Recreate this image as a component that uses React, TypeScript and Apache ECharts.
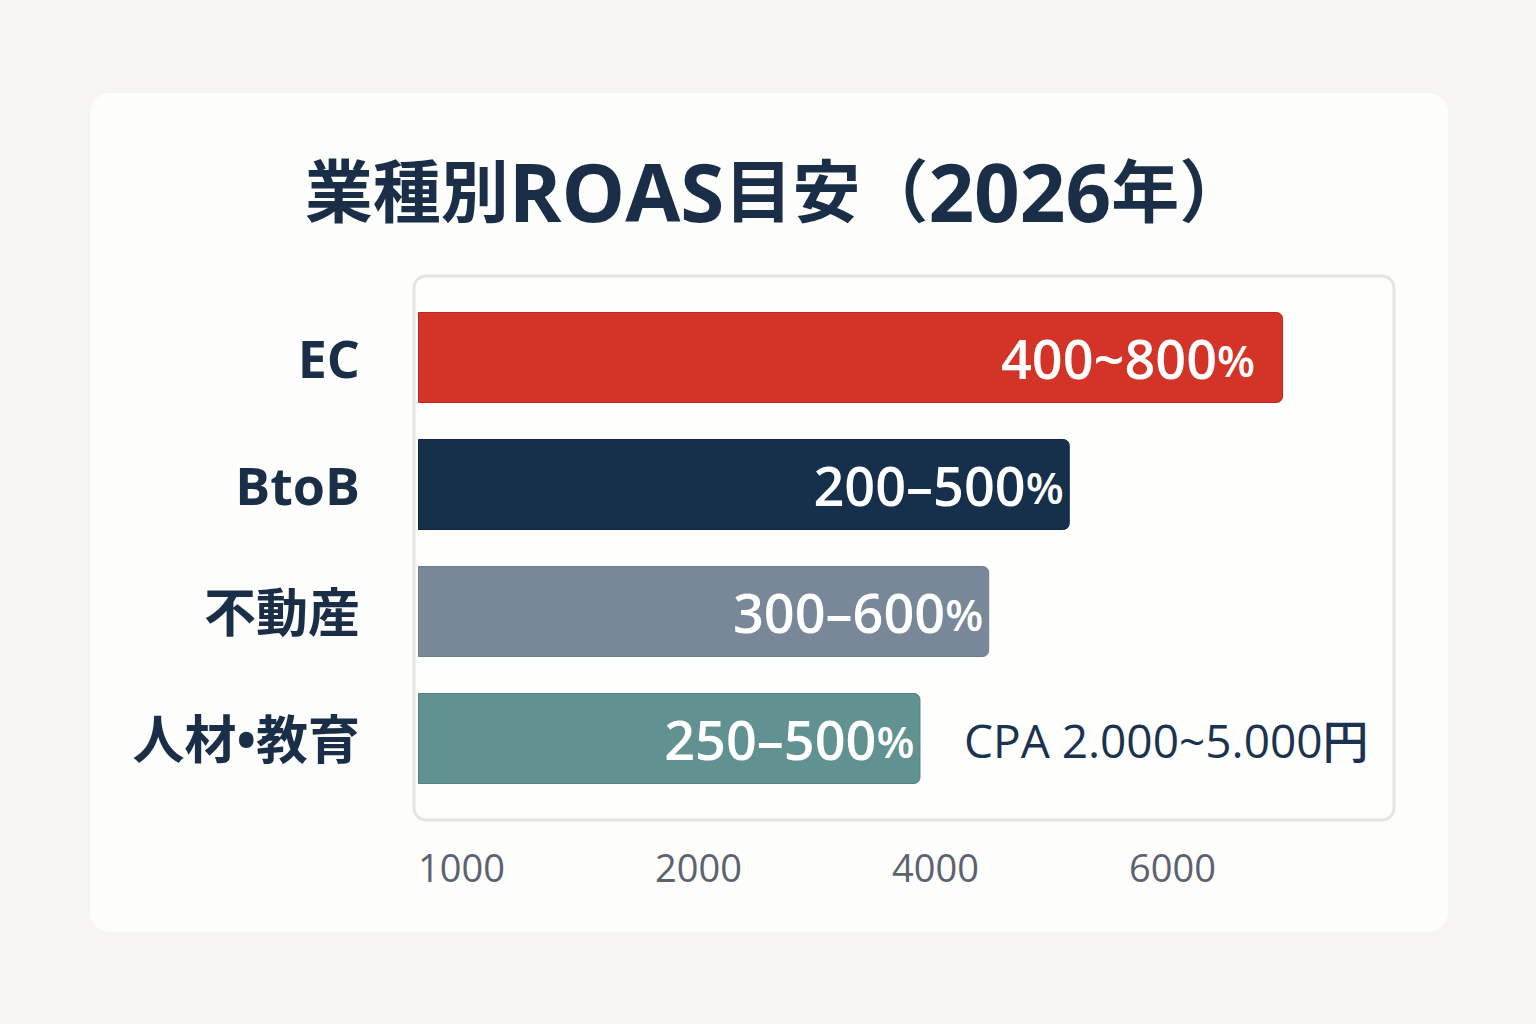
import React, { useEffect, useRef } from "react";
import * as echarts from "echarts";

const titleParts = [
  { t: "業種別", k: "c" },
  { t: "ROAS", k: "l" },
  { t: "目安（", k: "c" },
  { t: "2026", k: "l" },
  { t: "年）", k: "c" },
];
const categories = ["EC", "BtoB", "不動産", "人材•教育"];
const barValues = [3.65, 2.75, 2.41, 2.12];
const barLabels = ["400~800", "200–500", "300–600", "250–500"];
const barColors = ["#d43427", "#162f4a", "#788898", "#619190"];
const barBorders = ["#c8231a", "#102640", "#6d7d8d", "#4f8280"];
const tickLabels = ["1000", "2000", "4000", "6000"];
const cpaNote = "CPA 2.000~5.000円";

const FONT = "'Open Sans', 'Noto Sans CJK JP', sans-serif";

export default function App() {
  const ref = useRef<HTMLDivElement>(null);
  useEffect(() => {
    document.body.style.margin = "0";
    const chart = echarts.init(ref.current!, null, { renderer: "svg" });
    const data = barValues.map((v, i) => ({
      value: v,
      itemStyle: { color: barColors[i], borderColor: barBorders[i], borderWidth: 1 },
      label: { distance: i === 0 ? 28 : 6 },
    }));
    chart.setOption({
      animation: false,
      backgroundColor: "#f6f5f2",
      textStyle: { fontFamily: FONT },
      graphic: [
        {
          type: "rect",
          z: -10,
          shape: { x: 90, y: 93, width: 1358, height: 839, r: 20 },
          style: { fill: "#fdfdfb" },
        },
        {
          type: "rect",
          z: -5,
          shape: { x: 414, y: 276, width: 980, height: 544, r: 12 },
          style: { fill: "#fefefd", stroke: "#e4e4e2", lineWidth: 3 },
        },
        {
          type: "text",
          x: 776,
          y: 190,
          style: {
            text: titleParts.map((p) => `{${p.k}|${p.t}}`).join(""),
            textAlign: "center",
            textVerticalAlign: "middle",
            rich: {
              c: { fontSize: 68, fontWeight: "bold", fill: "#1a2f47", color: "#1a2f47", fontFamily: FONT },
              l: { fontSize: 80, fontWeight: "bold", fill: "#1a2f47", color: "#1a2f47", fontFamily: FONT },
            },
          },
        },
        {
          type: "text",
          x: 964,
          y: 740,
          style: {
            text: cpaNote,
            font: `500 46px ${FONT}`,
            fill: "#1b3350",
            textAlign: "left",
            textVerticalAlign: "middle",
          },
        },
      ],
      grid: { left: 418, top: 294, width: 948, height: 508, containLabel: false },
      xAxis: {
        type: "value",
        min: 0,
        max: 4,
        interval: 1,
        axisLine: { show: false },
        axisTick: { show: false },
        splitLine: { show: false },
        axisLabel: {
          margin: 46,
          align: "left",
          color: "#5b6270",
          fontSize: 38,
          fontFamily: FONT,
          formatter: (v: number) => tickLabels[Math.round(v)] ?? "",
        },
      },
      yAxis: {
        type: "category",
        inverse: true,
        data: categories,
        axisLine: { show: false },
        axisTick: { show: false },
        axisLabel: {
          margin: 58,
          color: "#1a2f47",
          fontSize: 52,
          fontWeight: "bold",
          fontFamily: FONT,
        },
      },
      series: [
        {
          type: "bar",
          data,
          barWidth: 91,
          itemStyle: { borderRadius: [0, 6, 6, 0] },
          label: {
            show: true,
            position: "insideRight",
            formatter: (p: any) => `{n|${barLabels[p.dataIndex]}}{p|%}`,
            rich: {
              n: { color: "#ffffff", fontSize: 54, fontWeight: 600, fontFamily: FONT },
              p: { color: "#ffffff", fontSize: 44, fontWeight: 600, fontFamily: FONT, padding: [4, 0, 0, 0] },
            },
          },
        },
      ],
    });
    return () => chart.dispose();
  }, []);
  return <div ref={ref} style={{ width: 1536, height: 1024, position: "fixed", left: 0, top: 0 }} />;
}
